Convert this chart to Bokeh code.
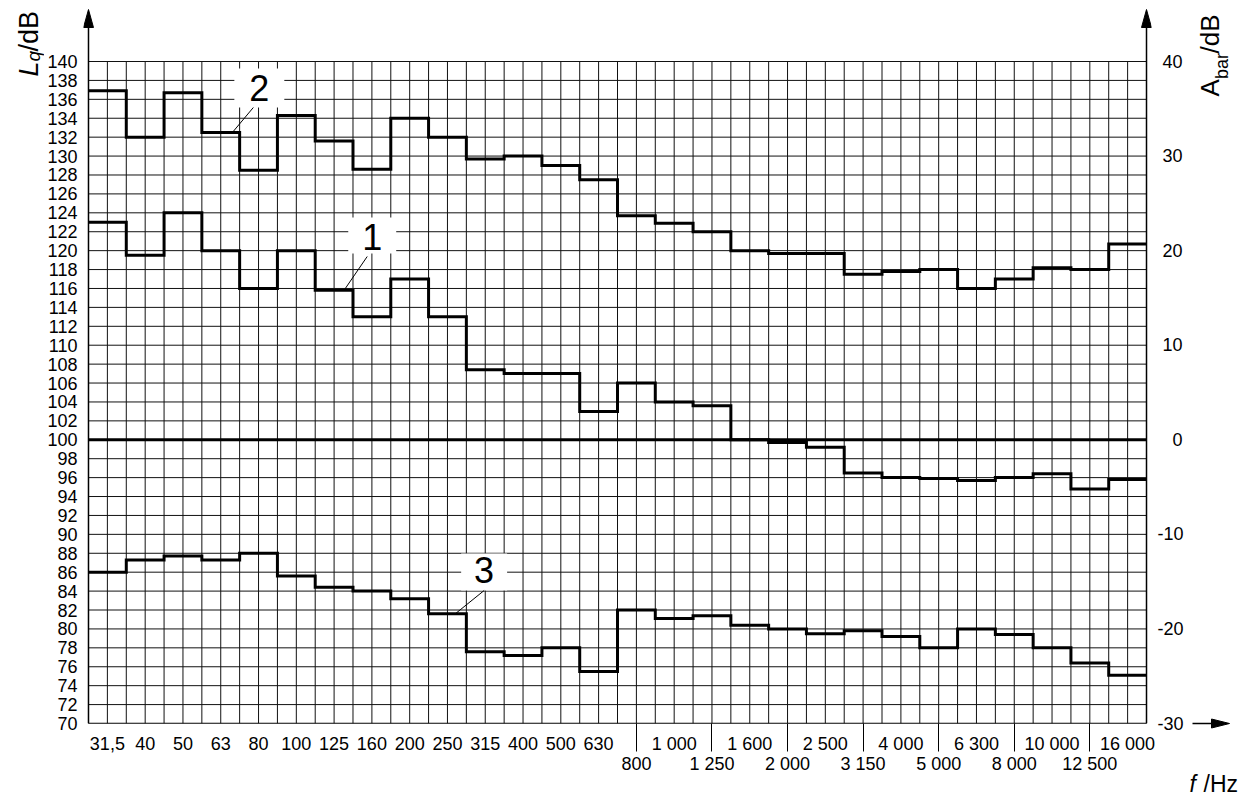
import numpy as np
from bokeh.plotting import figure
from bokeh.layouts import row
from bokeh.models import Range1d, LinearAxis, FixedTicker, Label
from bokeh.core.properties import value
from bokeh.embed import file_html
from bokeh.resources import INLINE

FONT = "Liberation Sans"
INK = "black"
GRID = "#111111"

# One-third-octave band centre frequencies (Hz) as printed on the axis
bands = ["31,5", "40", "50", "63", "80", "100", "125", "160", "200", "250",
         "315", "400", "500", "630", "800", "1 000", "1 250", "1 600", "2 000",
         "2 500", "3 150", "4 000", "5 000", "6 300", "8 000", "10 000",
         "12 500", "16 000"]
# bands whose labels sit on the second, lower row
lower_row = ["800", "1 250", "2 000", "3 150", "5 000", "8 000", "12 500"]

# Band levels L_q in dB
curve_1 = [123.0, 119.5, 124.0, 120.0, 116.0, 120.0, 115.8, 113.0, 117.0, 113.0,
           107.4, 107.0, 107.0, 103.0, 106.0, 104.0, 103.6, 100.0, 99.7, 99.2,
           96.5, 96.0, 95.9, 95.7, 96.0, 96.4, 94.8, 95.8]
curve_2 = [136.9, 132.0, 136.7, 132.5, 128.5, 134.3, 131.6, 128.6, 134.0, 132.0,
           129.7, 130.0, 129.0, 127.5, 123.7, 122.9, 122.0, 120.0, 119.7, 119.7,
           117.5, 117.8, 118.0, 116.0, 117.0, 118.2, 118.0, 120.7]
curve_3 = [86.0, 87.3, 87.7, 87.3, 88.0, 85.6, 84.4, 84.0, 83.2, 81.6,
           77.6, 77.2, 78.0, 75.5, 82.0, 81.1, 81.4, 80.4, 80.0, 79.5,
           79.8, 79.2, 78.0, 80.0, 79.4, 78.0, 76.4, 75.1]

level_ticks = list(range(70, 141, 2))
abar_ticks = list(range(-30, 41, 10))
reference_level = 100

callout_text = ["1", "2", "3"]

# ---------------------------------------------------------------- geometry (canvas pixels)
W, H = 1245, 796
LEFT_W = 44            # strip holding the L_q title
RIGHT_X0 = 1186        # strip holding the A_bar title, the f arrow and f /Hz
GL, GR, GT, GB = 87, 1146, 61, 723   # the ruled grid
PAD = 5                # room for the arrow heads either side of the grid
TOP = 4                # plot frame reaches up to here so the axis arrows fit

x_lo, x_hi = -0.5, len(bands) - 0.5
y_lo, y_hi = 70, 140
dx_px = (x_hi - x_lo) / (GR - GL)
dy_px = (y_hi - y_lo) / (GB - GT)


def sx(px):
    """canvas column -> band axis value"""
    return x_lo + (px - GL) * dx_px


def sy(py):
    """canvas row -> level axis value"""
    return y_hi - (py - GT) * dy_px


p = figure(width=RIGHT_X0 - LEFT_W, height=H,
           x_range=Range1d(sx(GL - PAD), sx(GR + PAD)), y_range=Range1d(y_lo, sy(TOP)),
           output_backend="svg", toolbar_location=None, tools="",
           x_axis_location=None, y_axis_location=None,
           min_border_left=GL - PAD - LEFT_W, min_border_right=RIGHT_X0 - GR - PAD,
           min_border_top=TOP, min_border_bottom=H - GB)
p.frame_align = False
p.background_fill_color = "white"
p.border_fill_color = "white"
p.outline_line_color = None
p.grid.visible = False

# ruled grid: half-band columns and 2 dB rows
cols = np.arange(x_lo, x_hi + 0.01, 0.5)
p.segment(x0=cols, y0=y_lo, x1=cols, y1=y_hi, line_color=GRID, line_width=1)
p.segment(x0=x_lo, y0=level_ticks, x1=x_hi, y1=level_ticks, line_color=GRID, line_width=1)
p.segment(x0=[x_lo, x_lo, x_hi], y0=[y_lo, y_lo, y_lo], x1=[x_lo, x_hi, x_hi],
          y1=[sy(22), y_lo, sy(22)], line_color=INK, line_width=1.5)

# arrow heads on top of both level axes
hw = 5 * dx_px
for xc in (x_lo, x_hi):
    p.patch([xc - hw, xc, xc + hw], [sy(27), sy(9), sy(27)], color=INK)

label_style = dict(major_label_text_font=FONT, major_label_text_font_size="18px",
                   major_label_text_color=INK, axis_line_color=None,
                   major_tick_out=0, major_tick_in=0, minor_tick_out=0, minor_tick_in=0)

left = LinearAxis(ticker=FixedTicker(ticks=level_ticks), major_label_standoff=GL - PAD - 76,
                  **label_style)
p.add_layout(left, "left")


def abar_label(t):
    # digits flush right: a punctuation space stands in for the minus sign,
    # a figure space for a missing digit
    s = str(t)
    if t >= 0:
        s = "\u2008" + s
    if abs(t) < 10:
        s = s[0] + "\u2007" + s[1:]
    return s


p.extra_y_ranges = {"abar": Range1d(y_lo - reference_level, sy(TOP) - reference_level)}
right = LinearAxis(y_range_name="abar", ticker=FixedTicker(ticks=abar_ticks),
                   major_label_overrides={t: abar_label(t) for t in abar_ticks},
                   major_label_standoff=1157 - GR - PAD, **label_style)
p.add_layout(right, "right")

idx = list(range(len(bands)))
lower_idx = [bands.index(b) for b in lower_row]
bottom_style = dict(label_style)
bottom_style.update(minor_tick_out=28, minor_tick_line_color=INK, minor_tick_line_width=1,
                    major_tick_line_color=None)
bottom = LinearAxis(ticker=FixedTicker(ticks=idx, minor_ticks=lower_idx),
                    major_label_overrides={i: ("" if i in lower_idx else bands[i]) for i in idx},
                    major_label_standoff=-18, **bottom_style)
p.add_layout(bottom, "below")
bottom2 = LinearAxis(ticker=FixedTicker(ticks=lower_idx),
                     major_label_overrides={i: bands[i] for i in lower_idx},
                     major_tick_line_color=None, minor_tick_line_color=None,
                     major_label_standoff=-3, **label_style)
p.add_layout(bottom2, "below")

# white patches behind the callout numbers
p.quad(left=[sx(347), sx(233), sx(460)], right=[sx(395), sx(283), sx(506)],
       top=[sy(217), sy(68), sy(553)], bottom=[sy(253), sy(107), sy(590)],
       fill_color="white", line_color=None)

# reference line at 100 dB (A_bar = 0)
p.segment(x0=[x_lo], y0=[reference_level], x1=[x_hi], y1=[reference_level],
          line_color=INK, line_width=3)

# stepped band spectra
edges = np.arange(len(bands) + 1) - 0.5
for vals in (curve_1, curve_2, curve_3):
    p.step(edges, np.append(vals, vals[-1]), mode="after", line_color=INK,
           line_width=3, line_join="miter")

# callout numbers and leaders
p.text(x=[sx(371), sx(258), sx(483)], y=[sy(236), sy(87), sy(569)], text=callout_text,
       text_font=value(FONT), text_font_size="36px", text_align="center",
       text_baseline="middle", text_color=INK)
p.segment(x0=[sx(366), sx(252), sx(483)], y0=[sy(256), sy(107), sy(590)],
          x1=[sx(343), sx(231), sx(454.5)], y1=[sy(289.5), sy(132), sy(613)],
          line_color=INK, line_width=1)


# ---------------------------------------------------------------- side strips
class Strip:
    """a bare figure whose data units are the page's own pixel columns and rows"""

    def __init__(self, left, width):
        self.left = left
        f = figure(width=width, height=H, x_range=Range1d(0, width),
                   y_range=Range1d(0, H), output_backend="svg",
                   toolbar_location=None, tools="", x_axis_location=None,
                   y_axis_location=None, min_border=0, min_border_left=0,
                   min_border_right=0, min_border_top=0, min_border_bottom=0)
        f.frame_align = False
        f.background_fill_color = "white"
        f.border_fill_color = "white"
        f.outline_line_color = None
        f.grid.visible = False
        self.fig = f

    def x(self, px):
        return px - self.left

    def y(self, py):
        return H - py

    def text(self, txt, px, py, size, style="normal", angle=0.0):
        self.fig.add_layout(Label(x=self.x(px), y=self.y(py), text=txt, angle=angle,
                                  text_font=FONT, text_font_size=size,
                                  text_font_style=style, text_color=INK,
                                  text_baseline="middle", text_align="left"))


rot = np.pi / 2

# L_q / dB, reading upwards
left_strip = Strip(0, LEFT_W)
left_strip.text("L", 28, 76, "27px", "italic", rot)
left_strip.text("q", 33, 61, "19px", "italic", rot)
left_strip.text("/dB", 28, 51, "27px", "normal", rot)

# A_bar / dB, reading upwards
rs = Strip(RIGHT_X0, W - RIGHT_X0)
rs.text("A", 1209, 96, "26px", "normal", rot)
rs.text("bar", 1221, 78.5, "18px", "normal", rot)
rs.text("/dB", 1209, 53, "26px", "normal", rot)

# frequency axis arrow beyond the -30 label
rs.fig.segment(x0=[rs.x(1192)], y0=[rs.y(GB)], x1=[rs.x(1214)], y1=[rs.y(GB)],
               line_color=INK, line_width=1.5)
rs.fig.patch([rs.x(1211), rs.x(1229), rs.x(1211)], [rs.y(GB - 4.5), rs.y(GB), rs.y(GB + 4.5)],
             color=INK)

# f / Hz under the end of the frequency axis
rs.text("f", 1189, 783, "23px", "italic")
rs.text("/Hz", 1203, 783, "23px")

layout = row(left_strip.fig, p, rs.fig, spacing=0)
open("out.html", "w").write(file_html(layout, INLINE))
